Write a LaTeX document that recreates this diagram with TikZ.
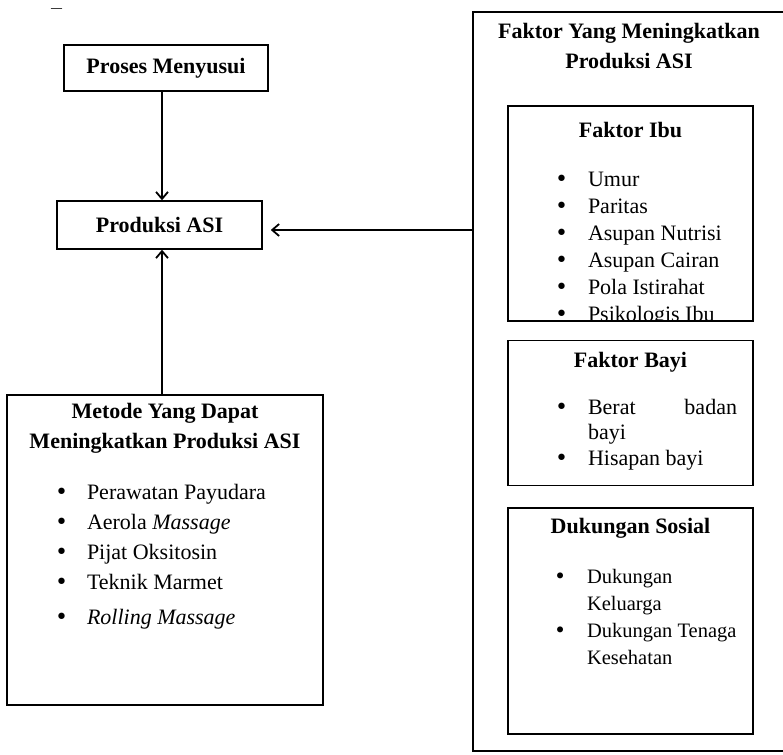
\documentclass[tikz,border=0pt]{standalone}
\usepackage{fontspec}
\setmainfont{Liberation Serif}
\newfontfamily\simbol{DejaVu Sans}
\usetikzlibrary{positioning,arrows.meta}

\newcommand{\isi}{\fontsize{22}{26}\selectfont}
\newcommand{\isikecil}{\fontsize{20.5}{24}\selectfont}
\newcommand{\titik}[1]{\makebox[#1][l]{{\simbol •}}}

\begin{document}
\begin{tikzpicture}[x=1pt, y=-1pt,
    kotak/.style={rectangle, draw=black, line width=1.5pt, inner sep=0pt},
    tebal/.style={font=\fontsize{22}{30}\selectfont\bfseries},
    judul/.style={tebal, align=center, inner sep=0pt, anchor=north},
    butir/.style={font=\isi, inner sep=0pt, outer sep=0pt, text height=16pt, text depth=5pt, anchor=base west},
    butirkecil/.style={butir, font=\isikecil, text height=15pt},
    panah/.style={-{Straight Barb[length=7pt,width=12pt]}, line width=1.8pt}]

\useasboundingbox (0,0) rectangle (783,754);

\node[inner sep=0pt, font=\fontsize{11}{11}\selectfont\bfseries, anchor=base] (garis) at (56.5,11.5) {—};

% kotak kiri
\node[kotak, tebal, minimum width=204pt, minimum height=46pt] (proses) at (166,68) {Proses Menyusui};
\node[kotak, tebal, minimum width=205pt, minimum height=48pt] (produksi) at (159.5,225) {Produksi ASI};
\node[kotak, minimum width=316pt, minimum height=310pt] (metode) at (165,550) {};
\node[judul, below=9pt of metode.north] (judulmetode) {Metode Yang Dapat\\Meningkatkan Produksi ASI};

\node[butir] (rawat) at (55,499) {\titik{32pt}Perawatan Payudara};
\node[butir, below=9pt of rawat.south west, anchor=north west] (aerola) {\titik{32pt}Aerola \textit{Massage}};
\node[butir, below=9pt of aerola.south west, anchor=north west] (pijat) {\titik{32pt}Pijat Oksitosin};
\node[butir, below=9pt of pijat.south west, anchor=north west] (marmet) {\titik{32pt}Teknik Marmet};
\node[butir, below=14pt of marmet.south west, anchor=north west] (rolling) {\titik{32pt}\textit{Rolling Massage}};

% kotak kanan
\node[kotak, minimum width=312pt, minimum height=739pt] (faktor) at (629,381.5) {};
\node[judul, below=12pt of faktor.north] (judulfaktor) {Faktor Yang Meningkatkan\\Produksi ASI};

\node[kotak, minimum width=245pt, minimum height=215pt] (ibu) at (630.5,213.5) {};
\node[kotak, minimum width=245pt, minimum height=145pt, below=18pt of ibu] (bayi) {};
\node[kotak, minimum width=245pt, minimum height=226pt, below=21pt of bayi] (sosial) {};

\node[judul, below=17pt of ibu.north] (judulibu) {Faktor Ibu};
\node[judul, below=12pt of bayi.north] (judulbayi) {Faktor Bayi};
\node[judul, below=11pt of sosial.north] (judulsosial) {Dukungan Sosial};

\begin{scope}
\clip ([yshift=2pt]ibu.south west) rectangle (ibu.north east);
\node[butir] (umur) at (555,186.5) {\titik{33pt}Umur};
\node[butir, below=5.9pt of umur.south west, anchor=north west] (paritas) {\titik{33pt}Paritas};
\node[butir, below=5.9pt of paritas.south west, anchor=north west] (nutrisi) {\titik{33pt}Asupan Nutrisi};
\node[butir, below=5.9pt of nutrisi.south west, anchor=north west] (cairan) {\titik{33pt}Asupan Cairan};
\node[butir, below=5.9pt of cairan.south west, anchor=north west] (istirahat) {\titik{33pt}Pola Istirahat};
\node[butir, below=5.9pt of istirahat.south west, anchor=north west] (psikologis) {\titik{33pt}Psikologis Ibu};
\end{scope}

\node[butir] (berat) at (555,414) {\titik{33pt}\makebox[149pt][s]{Berat\hfill badan}};
\node[butir, below=4.5pt of berat.south west, anchor=north west] (beratb) {\hspace*{33pt}bayi};
\node[butir, below=4.5pt of beratb.south west, anchor=north west] (hisapan) {\titik{33pt}Hisapan bayi};

\node[butirkecil] (keluarga) at (554,583) {\titik{33pt}Dukungan};
\node[butirkecil, below=7pt of keluarga.south west, anchor=north west] (keluargab) {\hspace*{33pt}Keluarga};
\node[butirkecil, below=7pt of keluargab.south west, anchor=north west] (tenaga) {\titik{33pt}Dukungan Tenaga};
\node[butirkecil, below=7pt of tenaga.south west, anchor=north west] (tenagab) {\hspace*{33pt}Kesehatan};

% panah
\coordinate (atas) at ([xshift=2.5pt]produksi.north);
\coordinate (bawah) at ([xshift=2.5pt]produksi.south);
\coordinate (kanan) at ([xshift=8pt,yshift=-5pt]produksi.east);
\draw[panah] (atas |- proses.south) -- (atas);
\draw[panah] (bawah |- metode.north) -- (bawah);
\draw[panah] (kanan -| faktor.west) -- (kanan);

\end{tikzpicture}
\end{document}
